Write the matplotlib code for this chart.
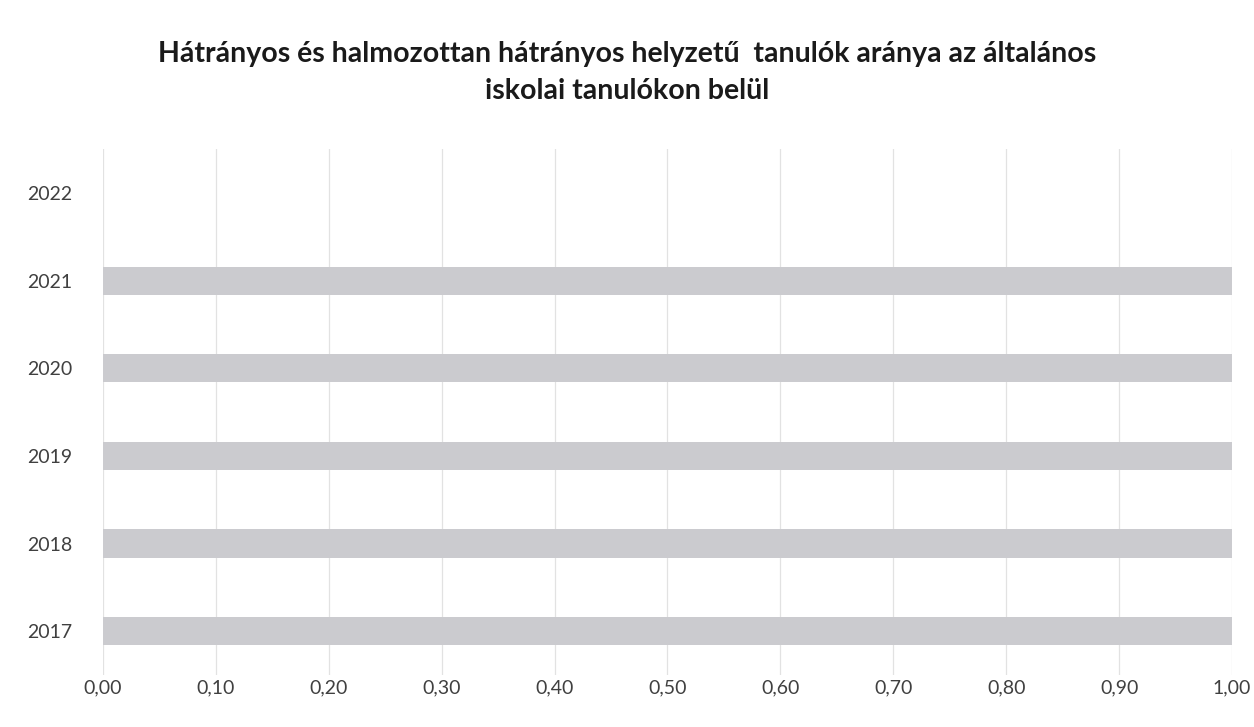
import numpy as np
import matplotlib.pyplot as plt

# school years and share of disadvantaged pupils
years = ["2017", "2018", "2019", "2020", "2021", "2022"]
arany = [1.0, 1.0, 1.0, 1.0, 1.0, 0.0]
xticks = [0.0, 0.1, 0.2, 0.3, 0.4, 0.5, 0.6, 0.7, 0.8, 0.9, 1.0]

plt.rcParams['font.family'] = ['Lato', 'DejaVu Sans']

fig = plt.figure(figsize=(12.54, 7.27), dpi=100)
ax = fig.add_axes([0.082, 0.0715, 0.9005, 0.7235])

pos = np.arange(len(years))
ax.barh(pos, arany, height=0.32, color="#cbcbcf", zorder=2)

ax.set_xlim(0, 1.0)
ax.set_ylim(-0.5, len(years) - 0.5)
ax.set_yticks(pos)
ax.set_yticklabels(years)
ax.set_xticks(xticks)
ax.set_xticklabels([("%.2f" % v).replace(".", ",") for v in xticks])

ax.grid(axis="x", color="#e2e2e2", linewidth=0.9, zorder=0)
for s in ax.spines.values():
    s.set_visible(False)
ax.tick_params(length=0, labelsize=14, labelcolor="#404040")
ax.tick_params(axis="x", pad=3)
ax.tick_params(axis="y", pad=22)

fig.text(0.5, 0.9, "Hátrányos és halmozottan hátrányos helyzetű  tanulók aránya az általános\niskolai tanulókon belül",
         ha="center", va="center", fontsize=20.5, fontweight="bold", color="#1a1a1a", linespacing=1.55)

fig.savefig("out.png", dpi=100)
